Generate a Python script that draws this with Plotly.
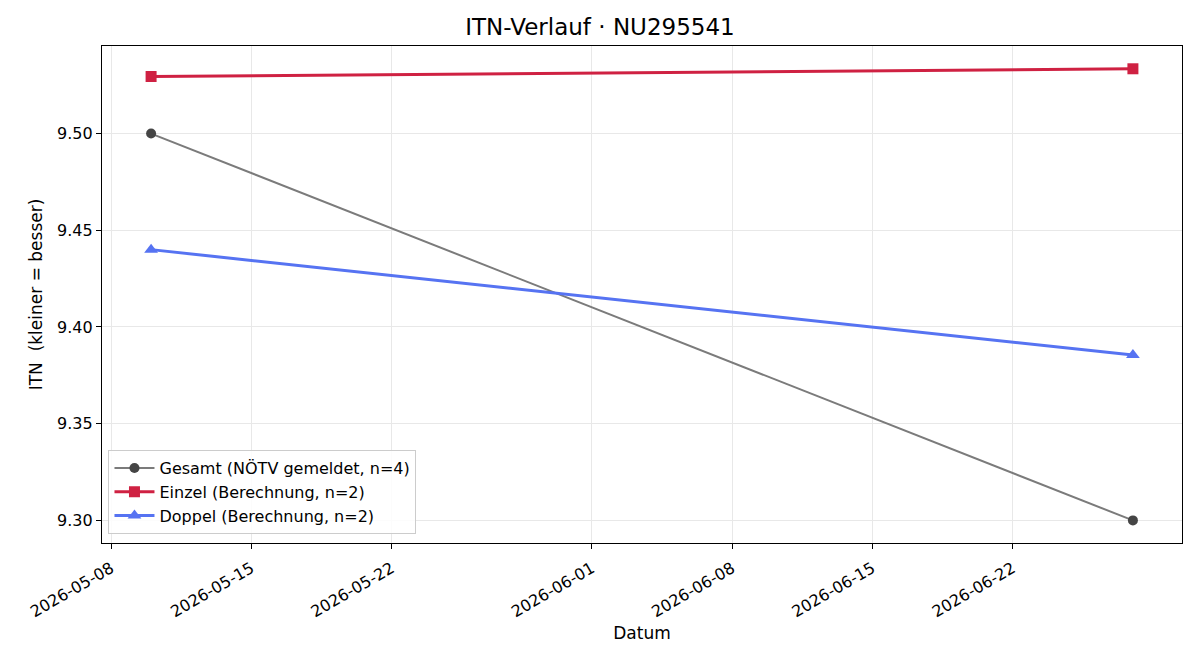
import plotly.graph_objects as go

dates = ["2026-05-10", "2026-06-28"]
gesamt = [9.50, 9.30]
einzel = [9.5295, 9.5335]
doppel = [9.440, 9.3855]

tick_vals = ["2026-05-08", "2026-05-15", "2026-05-22", "2026-06-01",
             "2026-06-08", "2026-06-15", "2026-06-22"]
tick_text = tick_vals

names = ["Gesamt (NÖTV gemeldet, n=4)", "Einzel (Berechnung, n=2)", "Doppel (Berechnung, n=2)"]

FONT = "DejaVu Sans, Verdana, sans-serif"

fig = go.Figure()
fig.add_trace(go.Scatter(
    x=dates, y=gesamt, name=names[0], mode="lines+markers",
    line=dict(color="#7b7b7b", width=2),
    marker=dict(symbol="circle", size=10, color="#454545"),
))
fig.add_trace(go.Scatter(
    x=dates, y=einzel, name=names[1], mode="lines+markers",
    line=dict(color="#cf2142", width=3),
    marker=dict(symbol="square", size=11, color="#cf2142"),
))
fig.add_trace(go.Scatter(
    x=dates, y=doppel, name=names[2], mode="lines+markers",
    line=dict(color="#5673f2", width=3),
    marker=dict(symbol="triangle-up", size=12, color="#5673f2"),
))

fig.update_layout(
    width=1200, height=660,
    margin=dict(l=102, r=18, t=46, b=117),
    paper_bgcolor="white", plot_bgcolor="white",
    font=dict(family=FONT, size=16, color="black"),
    title=dict(text="ITN-Verlauf · NU295541", x=0.5, xanchor="center",
               y=0.972, yanchor="top", font=dict(size=23, family=FONT)),
    xaxis=dict(
        type="date",
        range=["2026-05-07 13:12", "2026-06-30 10:48"],
        tickmode="array", tickvals=tick_vals, ticktext=tick_text,
        tickangle=-30, ticks="outside", ticklen=5, tickcolor="black",
        ticklabelstandoff=4,
        showline=True, linecolor="black", linewidth=1.2, mirror=True,
        showgrid=True, gridcolor="#e8e8e8", gridwidth=1,
        tickfont=dict(size=16),
        title=dict(text="Datum", font=dict(size=17), standoff=6),
        zeroline=False,
    ),
    yaxis=dict(
        range=[9.28832, 9.54528],
        tickmode="array", tickvals=[9.30, 9.35, 9.40, 9.45, 9.50],
        ticktext=["9.30", "9.35", "9.40", "9.45", "9.50"],
        ticks="outside", ticklen=5, tickcolor="black",
        showline=True, linecolor="black", linewidth=1.2, mirror=True,
        showgrid=True, gridcolor="#e8e8e8", gridwidth=1,
        tickfont=dict(size=16),
        title=dict(text="ITN  (kleiner = besser)", font=dict(size=17), standoff=10),
        zeroline=False,
    ),
    legend=dict(
        x=0.006, y=0.018, xanchor="left", yanchor="bottom",
        bgcolor="rgba(255,255,255,0.85)", bordercolor="#cccccc", borderwidth=1,
        font=dict(size=16, family=FONT), tracegroupgap=0, itemwidth=40,
    ),
    showlegend=True,
)

fig.write_html("out.html")
